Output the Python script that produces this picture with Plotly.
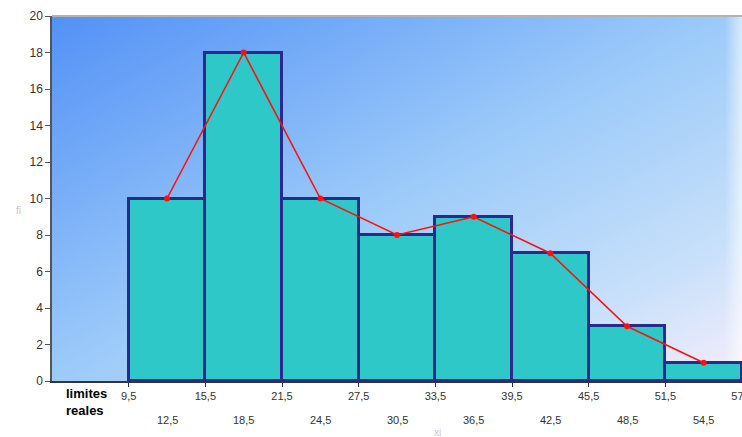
import base64
import plotly.graph_objects as go

# Data
boundaries = [9.5, 15.5, 21.5, 27.5, 33.5, 39.5, 45.5, 51.5, 57.5]
boundary_labels = ["9,5", "15,5", "21,5", "27,5", "33,5", "39,5", "45,5", "51,5", "57,5"]
midpoints = [12.5, 18.5, 24.5, 30.5, 36.5, 42.5, 48.5, 54.5]
midpoint_labels = ["12,5", "18,5", "24,5", "30,5", "36,5", "42,5", "48,5", "54,5"]
frequencies = [10, 18, 10, 8, 9, 7, 3, 1]
y_ticks = [0, 2, 4, 6, 8, 10, 12, 14, 16, 18, 20]

W, H = 742, 437
L, R, T, B = 52, 0, 16, 56
FONT = "Liberation Sans, Arial, sans-serif"

svg = f'''<svg xmlns="http://www.w3.org/2000/svg" width="690" height="365" viewBox="0 0 690 365" preserveAspectRatio="none">
<defs>
<linearGradient id="g" x1="0" y1="0" x2="1" y2="1">
<stop offset="0" stop-color="#5391f6"/>
<stop offset="0.5" stop-color="#9dcbf9"/>
<stop offset="0.8" stop-color="#c8e0fa"/>
<stop offset="1" stop-color="#f6eefa"/>
</linearGradient>
<linearGradient id="h" x1="0" y1="0" x2="1" y2="0">
<stop offset="0" stop-color="#ffffff" stop-opacity="0"/>
<stop offset="0.975" stop-color="#ffffff" stop-opacity="0"/>
<stop offset="1" stop-color="#ffffff" stop-opacity="0.6"/>
</linearGradient>
</defs>
<rect width="690" height="365" fill="url(#g)"/>
<rect width="690" height="365" fill="url(#h)"/>
</svg>'''
src = "data:image/svg+xml;base64," + base64.b64encode(svg.encode()).decode()

fig = go.Figure()
fig.add_trace(go.Bar(
    x=midpoints, y=frequencies, width=6,
    marker=dict(color="#2ec8c8", line=dict(color="#2a2a8e", width=3)),
    showlegend=False, hoverinfo="skip",
))
fig.add_trace(go.Scatter(
    x=midpoints, y=frequencies, mode="lines+markers",
    line=dict(color="#ff1010", width=1.6),
    marker=dict(color="#ff1010", size=6),
    showlegend=False,
))

annotations = []
for xm, lab in zip(midpoints, midpoint_labels):
    annotations.append(dict(x=xm, y=-(420 - 381) / 365, xref="x", yref="paper",
                            yanchor="middle",
                            text=lab, showarrow=False,
                            font=dict(family=FONT, size=11, color="#333333")))
annotations.append(dict(x=(64 - L) / 690, y=-(402 - 381) / 365, xref="paper", yref="paper",
                        yanchor="middle",
                        text="<b>limites<br>reales</b>", showarrow=False, xanchor="left", align="left",
                        font=dict(family=FONT, size=13, color="#000000")))
annotations.append(dict(x=(437 - L) / 690, y=-(432 - 381) / 365, xref="paper", yref="paper",
                        yanchor="middle",
                        text="xi", showarrow=False,
                        font=dict(family=FONT, size=10, color="#c8c8c8")))
annotations.append(dict(x=(14 - L) / 690, y=(381 - 210) / 365, xref="paper", yref="paper",
                        yanchor="middle",
                        text="fi", showarrow=False,
                        font=dict(family=FONT, size=10, color="#c8c8c8")))

fig.update_layout(
    width=W, height=H,
    margin=dict(l=L, r=R, t=T, b=B, autoexpand=False),
    paper_bgcolor="white", plot_bgcolor="rgba(0,0,0,0)",
    bargap=0,
    images=[dict(source=src, xref="paper", yref="paper", x=0, y=1, sizex=1, sizey=1,
                 sizing="stretch", layer="below", xanchor="left", yanchor="top")],
    shapes=[dict(type="line", xref="paper", yref="paper", x0=0, x1=1, y0=1, y1=1,
                 line=dict(color="#b4b4b4", width=2))],
    annotations=annotations,
    xaxis=dict(range=[3.5, 57.5], tickvals=boundaries, ticktext=boundary_labels,
               automargin=False, ticklabeloverflow="allow",
               showgrid=False, zeroline=False, showline=True, linecolor="#333344", linewidth=1.5,
               ticks="outside", ticklen=4, tickcolor="#333344",
               tickfont=dict(family=FONT, size=11, color="#333333")),
    yaxis=dict(range=[0, 20], tickvals=y_ticks, showgrid=False, zeroline=False,
               automargin=False,
               showline=True, linecolor="#555555", linewidth=1.5,
               ticks="outside", ticklen=5, tickcolor="#555555",
               tickfont=dict(family=FONT, size=12, color="#333333")),
)

fig.write_html("out.html", config={"responsive": False, "displayModeBar": False},
               post_script="document.body.style.margin='0';document.body.style.overflow='hidden';")
